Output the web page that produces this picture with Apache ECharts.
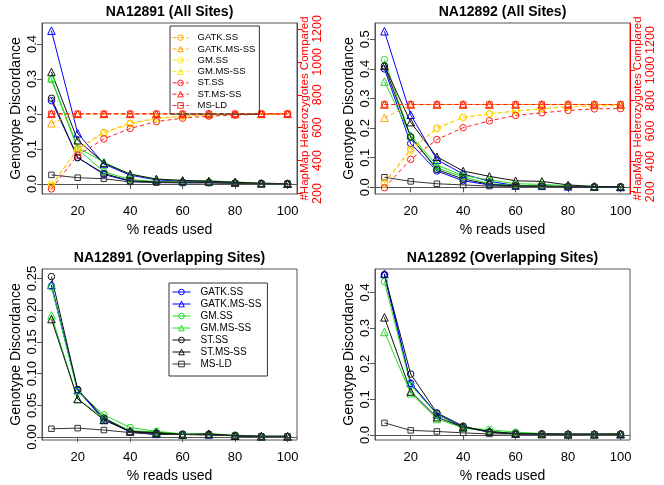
<!DOCTYPE html>
<html><head><meta charset="utf-8">
<script src="https://cdn.jsdelivr.net/npm/echarts@6/dist/echarts.min.js"></script>
<style>html,body{margin:0;padding:0;background:#fff}#c{width:664px;height:485px}</style>
</head><body><div id="c"></div>
<script>
// ---------------- DATA ----------------
const pct = [10, 20, 30, 40, 50, 60, 70, 80, 90, 100];
const xTicks = [20, 40, 60, 80, 100];
const seriesNames = ['GATK.SS', 'GATK.MS-SS', 'GM.SS', 'GM.MS-SS', 'ST.SS', 'ST.MS-SS', 'MS-LD'];
const panelTitles = ['NA12891 (All Sites)', 'NA12892 (All Sites)', 'NA12891 (Overlapping Sites)', 'NA12892 (Overlapping Sites)'];
const yTicksTL = [0, 0.1, 0.2, 0.3, 0.4];
const yTicksTR = [0, 0.1, 0.2, 0.3, 0.4, 0.5];
const yTicksBL = [0, 0.05, 0.10, 0.15, 0.20, 0.25];
const yTicksBR = [0, 0.1, 0.2, 0.3, 0.4];
const hetTicks = [200, 400, 600, 800, 1000, 1200];

// NA12891 (All Sites) - genotype discordance
const tlGatkSS   = [0.238, 0.076, 0.027, 0.008, 0.005, 0.004, 0.004, 0.002, 0.001, 0.001];
const tlGatkMS   = [0.438, 0.145, 0.057, 0.025, 0.012, 0.008, 0.007, 0.004, 0.002, 0.001];
const tlGmSS     = [0.298, 0.100, 0.035, 0.013, 0.007, 0.005, 0.005, 0.003, 0.001, 0.001];
const tlGmMS     = [0.302, 0.104, 0.062, 0.028, 0.014, 0.010, 0.009, 0.006, 0.002, 0.001];
const tlStSS     = [0.245, 0.075, 0.030, 0.009, 0.006, 0.005, 0.004, 0.003, 0.001, 0.001];
const tlStMS     = [0.320, 0.125, 0.060, 0.028, 0.014, 0.010, 0.008, 0.005, 0.002, 0.001];
const tlMsLd     = [0.026, 0.018, 0.015, 0.006, 0.004, 0.003, 0.003, 0.002, 0.001, 0.001];
// NA12891 (All Sites) - #HapMap heterozygotes compared
const tlHetGatkSS = [245, 473, 571, 627, 657, 670, 678, 680, 684, 684];
const tlHetGatkMS = [627, 684, 684, 684, 684, 684, 684, 684, 684, 684];
const tlHetGmSS   = [258, 465, 565, 622, 655, 668, 676, 680, 683, 684];
const tlHetGmMS   = [684, 684, 684, 684, 684, 684, 684, 684, 684, 684];
const tlHetStSS   = [228, 433, 532, 595, 637, 658, 670, 676, 682, 684];
const tlHetStMS   = [684, 684, 684, 684, 684, 684, 684, 684, 684, 684];
const tlHetMsLd   = [684, 684, 684, 684, 684, 684, 684, 684, 684, 684];

// NA12892 (All Sites) - genotype discordance
const trGatkSS   = [0.400, 0.148, 0.055, 0.022, 0.008, 0.004, 0.003, 0.002, 0.001, 0.001];
const trGatkMS   = [0.527, 0.245, 0.093, 0.045, 0.020, 0.006, 0.005, 0.003, 0.002, 0.001];
const trGmSS     = [0.431, 0.170, 0.065, 0.035, 0.012, 0.006, 0.005, 0.003, 0.002, 0.001];
const trGmMS     = [0.357, 0.175, 0.075, 0.040, 0.025, 0.012, 0.010, 0.005, 0.003, 0.002];
const trStSS     = [0.410, 0.170, 0.060, 0.028, 0.010, 0.005, 0.004, 0.002, 0.001, 0.001];
const trStMS     = [0.410, 0.220, 0.103, 0.055, 0.037, 0.022, 0.020, 0.008, 0.003, 0.002];
const trMsLd     = [0.034, 0.020, 0.012, 0.008, 0.004, 0.003, 0.003, 0.002, 0.001, 0.001];
// NA12892 (All Sites) - #HapMap heterozygotes compared
const trHetGatkSS = [260, 481, 619, 690, 713, 732, 746, 760, 766, 768];
const trHetGatkMS = [687, 775, 775, 775, 775, 775, 775, 775, 775, 775];
const trHetGmSS   = [250, 470, 615, 690, 713, 732, 746, 760, 766, 768];
const trHetGmMS   = [775, 775, 775, 775, 775, 775, 775, 775, 775, 775];
const trHetStSS   = [226, 413, 544, 622, 667, 703, 720, 736, 746, 748];
const trHetStMS   = [775, 775, 775, 775, 775, 775, 775, 775, 775, 775];
const trHetMsLd   = [775, 775, 775, 775, 775, 775, 775, 775, 775, 775];

// NA12891 (Overlapping Sites)
const blGatkSS   = [0.238, 0.074, 0.028, 0.008, 0.004, 0.004, 0.004, 0.002, 0.001, 0.001];
const blGatkMS   = [0.240, 0.074, 0.027, 0.009, 0.005, 0.004, 0.004, 0.002, 0.001, 0.001];
const blGmSS     = [0.237, 0.072, 0.035, 0.015, 0.009, 0.005, 0.005, 0.003, 0.001, 0.001];
const blGmMS     = [0.192, 0.060, 0.030, 0.010, 0.008, 0.004, 0.005, 0.003, 0.001, 0.001];
const blStSS     = [0.253, 0.075, 0.030, 0.008, 0.006, 0.004, 0.004, 0.002, 0.001, 0.001];
const blStMS     = [0.186, 0.060, 0.027, 0.009, 0.007, 0.004, 0.005, 0.002, 0.001, 0.001];
const blMsLd     = [0.013, 0.014, 0.011, 0.007, 0.004, 0.004, 0.003, 0.002, 0.001, 0.001];

// NA12892 (Overlapping Sites)
const brGatkSS   = [0.448, 0.145, 0.060, 0.022, 0.008, 0.003, 0.003, 0.002, 0.002, 0.002];
const brGatkMS   = [0.452, 0.146, 0.058, 0.022, 0.009, 0.004, 0.003, 0.002, 0.002, 0.002];
const brGmSS     = [0.430, 0.140, 0.058, 0.020, 0.015, 0.008, 0.004, 0.002, 0.002, 0.003];
const brGmMS     = [0.289, 0.117, 0.045, 0.020, 0.010, 0.005, 0.003, 0.002, 0.002, 0.003];
const brStSS     = [0.450, 0.171, 0.062, 0.025, 0.008, 0.003, 0.003, 0.002, 0.002, 0.002];
const brStMS     = [0.330, 0.122, 0.050, 0.022, 0.010, 0.004, 0.003, 0.002, 0.002, 0.003];
const brMsLd     = [0.034, 0.013, 0.010, 0.006, 0.003, 0.003, 0.002, 0.002, 0.002, 0.002];

// ---------------- STYLE / LAYOUT ----------------
const FONT = 'Liberation Sans, Arial, Helvetica, sans-serif';
const discColors = ['#0000ff', '#0000ff', '#22dd22', '#22dd22', '#111111', '#111111', '#333333'];
const hetColors  = ['#ffa500', '#ffa500', '#ffe800', '#ffe800', '#ff2020', '#ff2020', '#ff2020'];
const symbols    = ['circle', 'triangle', 'circle', 'triangle', 'circle', 'triangle', 'rect'];
const symSizes   = [6.5, 7.5, 6.5, 7.5, 6.5, 7.5, 5.5];

const panels = [
  {left: 42,  top: 23,  width: 255, height: 171, ymin: -0.0286, ymax: 0.46,  ticks: yTicksTL, dec: 1,
   disc: [tlGatkSS, tlGatkMS, tlGmSS, tlGmMS, tlStSS, tlStMS, tlMsLd],
   het: [tlHetGatkSS, tlHetGatkMS, tlHetGmSS, tlHetGmMS, tlHetStSS, tlHetStMS, tlHetMsLd], hmin: 197, hmax: 1236},
  {left: 375, top: 23,  width: 255, height: 171, ymin: -0.0226, ymax: 0.555, ticks: yTicksTR, dec: 1,
   disc: [trGatkSS, trGatkMS, trGmSS, trGmMS, trStSS, trStMS, trMsLd],
   het: [trHetGatkSS, trHetGatkMS, trHetGmSS, trHetGmMS, trHetStSS, trHetStMS, trHetMsLd], hmin: 185, hmax: 1312},
  {left: 42,  top: 269, width: 255, height: 171, ymin: -0.0047, ymax: 0.265, ticks: yTicksBL, dec: 2,
   disc: [blGatkSS, blGatkMS, blGmSS, blGmMS, blStSS, blStMS, blMsLd]},
  {left: 375, top: 269, width: 255, height: 171, ymin: -0.014, ymax: 0.4656, ticks: yTicksBR, dec: 1,
   disc: [brGatkSS, brGatkMS, brGmSS, brGmMS, brStSS, brStMS, brMsLd]}
];

const grid = [], xAxis = [], yAxis = [], series = [], title = [];
const hetNames = seriesNames.map(n => n + ' ');

panels.forEach((p, i) => {
  grid.push({left: p.left, top: p.top, width: p.width, height: p.height, show: true,
             borderColor: '#555', borderWidth: 1, backgroundColor: 'transparent'});
  title.push({text: panelTitles[i], left: p.left + p.width / 2, top: p.top - 18, textAlign: 'center', padding: 0,
              textStyle: {fontFamily: FONT, fontSize: 14, fontWeight: 'bold', color: '#000'}});
  xAxis.push({type: 'value', gridIndex: i, min: 6.4, max: 103.6,
    name: '% reads used', nameLocation: 'middle', nameGap: 29, nameMoveOverlap: false,
    nameTextStyle: {fontFamily: FONT, fontSize: 14, color: '#000'},
    axisLine: {show: true, lineStyle: {color: '#555', width: 1}},
    axisTick: {show: true, inside: false, length: 5, customValues: xTicks, lineStyle: {color: '#555'}},
    axisLabel: {show: true, customValues: xTicks, margin: 11, fontFamily: FONT, fontSize: 13, color: '#000'},
    splitLine: {show: false}});
  const yi = yAxis.length;
  yAxis.push({type: 'value', gridIndex: i, position: 'left', min: p.ymin, max: p.ymax,
    name: 'Genotype Discordance', nameLocation: 'middle', nameGap: 19, nameRotate: 90, nameMoveOverlap: false,
    nameTextStyle: {fontFamily: FONT, fontSize: 14, color: '#000'},
    axisLine: {show: true, lineStyle: {color: '#555', width: 1}},
    axisTick: {show: true, inside: false, length: 5, customValues: p.ticks, lineStyle: {color: '#555'}},
    axisLabel: {show: true, customValues: p.ticks, rotate: 90, margin: 3, fontFamily: FONT, fontSize: 13, color: '#000',
                formatter: v => Number(v).toFixed(p.dec)},
    splitLine: {show: false}});
  p.disc.forEach((arr, k) => {
    series.push({type: 'line', name: seriesNames[k], xAxisIndex: i, yAxisIndex: yi,
      data: pct.map((x, j) => [x, arr[j]]),
      symbol: symbols[k], symbolSize: symSizes[k],
      lineStyle: {color: discColors[k], width: 1},
      itemStyle: {color: 'rgba(0,0,0,0)', borderColor: discColors[k], borderWidth: 1},
      emphasis: {disabled: true}, z: 2});
  });
  if (p.het) {
    const hi = yAxis.length;
    yAxis.push({type: 'value', gridIndex: i, position: 'right', min: p.hmin, max: p.hmax,
      name: '#HapMap Heterozygotes Compared', nameLocation: 'middle', nameGap: 1.5, nameRotate: 90, nameMoveOverlap: false,
      nameTextStyle: {fontFamily: FONT, fontSize: 11.5, color: '#ff0000'},
      axisLine: {show: true, lineStyle: {color: '#ff0000', width: 1}},
      axisTick: {show: true, inside: false, length: 5, customValues: hetTicks, lineStyle: {color: '#ff0000'}},
      axisLabel: {show: true, customValues: hetTicks, rotate: 90, margin: 14, fontFamily: FONT, fontSize: 12.5, color: '#ff0000',
                  formatter: v => String(Math.round(v))},
      splitLine: {show: false}});
    p.het.forEach((arr, k) => {
      series.push({type: 'line', name: hetNames[k], xAxisIndex: i, yAxisIndex: hi,
        data: pct.map((x, j) => [x, arr[j]]),
        symbol: symbols[k], symbolSize: symSizes[k],
        lineStyle: {color: hetColors[k], width: 1, type: [4, 3]},
        itemStyle: {color: 'rgba(0,0,0,0)', borderColor: hetColors[k], borderWidth: 1},
        emphasis: {disabled: true}, z: 3});
    });
  }
});

const legendCommon = {orient: 'vertical', selectedMode: false, borderColor: '#333', borderWidth: 1,
  itemGap: 0, itemWidth: 16, itemHeight: 7, backgroundColor: 'transparent', formatter: n => n.trim(),
  lineStyle: {width: 1}, itemStyle: {borderWidth: 1}};
const legend = [
  Object.assign({}, legendCommon, {data: hetNames, left: 170, top: 26, padding: [6, 4, 3, 2],
    textStyle: {fontFamily: FONT, fontSize: 9.5, lineHeight: 11.3, color: '#000', padding: [0, 0, 0, 4]}}),
  Object.assign({}, legendCommon, {data: seriesNames, left: 169, top: 283, padding: [3, 6, 6, 3],
    itemWidth: 18, textStyle: {fontFamily: FONT, fontSize: 10, lineHeight: 12, color: '#000', padding: [0, 0, 0, 5]}})
];

const chart = echarts.init(document.getElementById('c'), null, {renderer: 'canvas'});
chart.setOption({animation: false, backgroundColor: '#fff', textStyle: {fontFamily: FONT},
  title, grid, xAxis, yAxis, series, legend, tooltip: {show: false}});
</script></body></html>
